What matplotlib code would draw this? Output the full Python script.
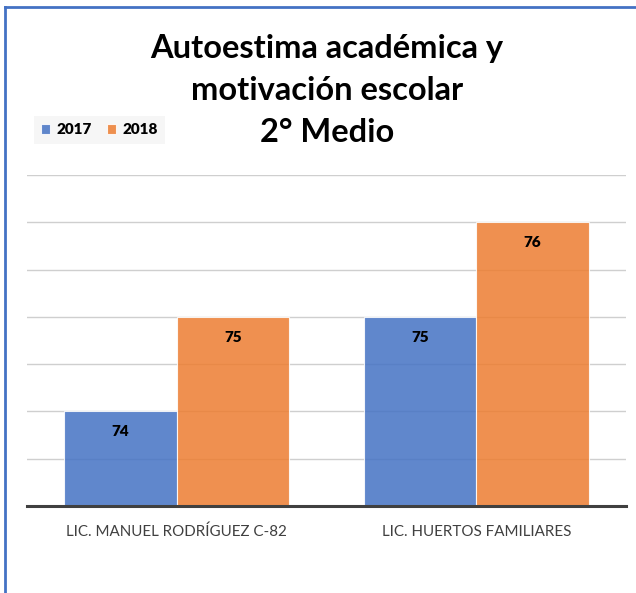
import matplotlib.pyplot as plt
import numpy as np
from matplotlib.lines import Line2D

categories = ['LIC. MANUEL RODRÍGUEZ C-82', 'LIC. HUERTOS FAMILIARES']
years = ['2017', '2018']
vals_2017 = [74, 75]
vals_2018 = [75, 76]
colors = ['#4472C4', '#ED7D31']
title_lines = ['Autoestima académica y', 'motivación escolar', '2° Medio']

plt.rcParams['font.family'] = ['Lato', 'DejaVu Sans']

fig = plt.figure(figsize=(6.36, 5.93), dpi=100)
ax = fig.add_axes([27 / 636, 1 - 506 / 593, 599 / 636, 331 / 593])

x = np.arange(len(categories))
w = 0.375
b1 = ax.bar(x - w / 2, np.array(vals_2017) - 73, w, bottom=73, color=colors[0], alpha=0.85,
            edgecolor='white', linewidth=0.8, label=years[0], zorder=2)
b2 = ax.bar(x + w / 2, np.array(vals_2018) - 73, w, bottom=73, color=colors[1], alpha=0.85,
            edgecolor='white', linewidth=0.8, label=years[1], zorder=2)

for bars, vals in [(b1, vals_2017), (b2, vals_2018)]:
    for rect, v in zip(bars, vals):
        ax.text(rect.get_x() + rect.get_width() / 2, v - 0.215, str(v),
                ha='center', va='center', fontsize=11, fontweight='heavy', color='black', zorder=3)

ax.set_xlim(-0.5, 1.5)
ax.set_ylim(73, 76.5)
ax.set_yticks(np.arange(73, 76.51, 0.5))
ax.yaxis.grid(True, color='#cfcfcf', linewidth=1, zorder=0)
ax.set_axisbelow(True)
ax.tick_params(axis='y', left=False, labelleft=False)
ax.tick_params(axis='x', bottom=False, pad=10)
ax.set_xticks(x)
ax.set_xticklabels(categories, fontsize=10.9, color='#404040')
for s in ['top', 'right', 'left']:
    ax.spines[s].set_visible(False)
ax.spines['bottom'].set_color('#404040')
ax.spines['bottom'].set_linewidth(2.2)

# title, one text per line
for line, base in zip(title_lines, [58, 100, 142]):
    fig.text(327 / 636, 1 - base / 593, line, ha='center', va='baseline',
             fontsize=23.5, fontweight='bold')

leg = ax.legend(loc='center left', bbox_to_anchor=(26 / 636, 1 - 130 / 593),
                bbox_transform=fig.transFigure, ncol=2, frameon=True,
                prop={'weight': 'heavy', 'size': 11}, handlelength=0.6, handleheight=0.6,
                handletextpad=0.4, columnspacing=1.0, borderpad=0.5, fancybox=False)
leg.get_frame().set_facecolor('#f4f4f4')
leg.get_frame().set_edgecolor('none')

# blue frame (left and top edges visible)
fig.add_artist(Line2D([5 / 636, 5 / 636], [0, 1 - 7 / 593], color='#4472C4', linewidth=2,
                      transform=fig.transFigure))
fig.add_artist(Line2D([5 / 636, 1], [1 - 7 / 593, 1 - 7 / 593], color='#4472C4', linewidth=2,
                      transform=fig.transFigure))

fig.savefig('out.png', dpi=100)
